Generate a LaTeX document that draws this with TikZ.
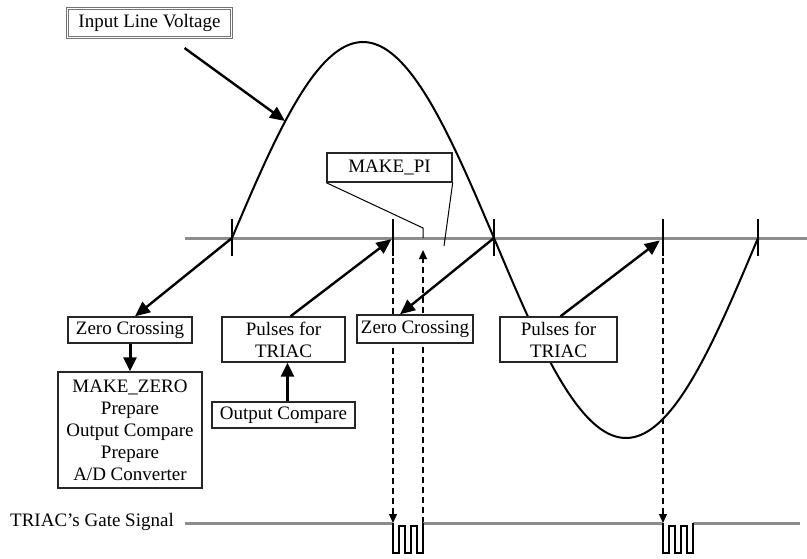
\documentclass[tikz,border=0pt]{standalone}
\usepackage{fontspec}
\setmainfont{Liberation Serif}
\usetikzlibrary{arrows.meta,calc}
\begin{document}
\begin{tikzpicture}[x=1pt,y=-1pt,
  font=\fontsize{19}{22}\selectfont,
  box/.style={draw=black!85,line width=1.4pt,fill=white,inner sep=0pt,align=center},
  bigarrow/.style={line width=2.4pt,-{Triangle[length=15pt,width=13pt]}},
  fatarrow/.style={line width=3pt,-{Triangle[length=14pt,width=13pt]}},
  dasharrow/.style={line width=1.3pt,dash pattern=on 6pt off 4pt,-{Triangle[length=9pt,width=8pt]}},
  axisline/.style={line width=3pt,draw=black!45},
  tickmark/.style={line width=1.6pt},
  curve/.style={line width=2pt},
  pulse/.style={line width=1.2pt}]
\useasboundingbox (0,0) rectangle (807,558);

% coordinates
\coordinate (t1) at (232,238);
\coordinate (t2) at (393,238);
\coordinate (t3) at (494,238);
\coordinate (t4) at (663,238);
\coordinate (t5) at (758,238);
\coordinate (axL) at (185,238);
\coordinate (axR) at (807,238);
\coordinate (gL) at (185,523);
\coordinate (g1) at (393,523);
\coordinate (g2) at (423,523);
\coordinate (g3) at (663,523);
\coordinate (g4) at (693,523);
\coordinate (gR) at (800,523);
\coordinate (cv) at (285,121);
\coordinate (pi1) at (423,228);
\coordinate (pi2) at (423,238);
\coordinate (pi3) at (444,246);
\coordinate (up) at (423,250);

% axis
\draw[axisline] (axL) -- (axR);

% sine curve
\draw[curve] plot[domain=0:180,samples=80] ({232+\x/180*262},{238-sin(\x)*196});
\draw[curve] plot[domain=0:180,samples=80] ({494+\x/180*264},{238+sin(\x)*200});

% ticks
\foreach \t in {t1,t2,t3,t4,t5}
  \draw[tickmark] ([yshift=19pt]\t) -- ([yshift=-18pt]\t);

% dashed lines
\draw[dasharrow] (t2) -- (g1);
\draw[dasharrow] (g2) -- (up);
\draw[dasharrow] (t4) -- (g3);

% gate signal
\draw[axisline] (gL) -- (g1);
\draw[axisline] (g2) -- (g3);
\draw[axisline] (g4) -- (gR);
\draw[pulse] (g1) -- ++(0,30) -- ++(6,0) -- ++(0,-27) -- ++(6,0) -- ++(0,27) -- ++(6,0) -- ++(0,-27) -- ++(6,0) -- ++(0,27) -- ++(6,0) -- (g2);
\draw[pulse] (g3) -- ++(0,30) -- ++(6,0) -- ++(0,-27) -- ++(6,0) -- ++(0,27) -- ++(6,0) -- ++(0,-27) -- ++(6,0) -- ++(0,27) -- ++(6,0) -- (g4);
\node[anchor=west,inner sep=0pt] (gate) at (10,522) {TRIAC's Gate Signal};

% boxes
\node[box,draw=black!55,double=white,double distance=0.8pt,line width=1pt,minimum width=164pt,minimum height=29pt] (ilv) at (149.5,23) {Input Line Voltage};
\node[box,minimum width=125pt,minimum height=29pt] (mpi) at (389.5,167.5) {MAKE\_PI};
\node[box,minimum width=124pt,minimum height=26pt] (zc1) at (130,330) {Zero Crossing};
\node[box,minimum width=144pt,minimum height=116pt] (mz) at (130,430) {MAKE\_ZERO\\Prepare\\Output Compare\\Prepare\\A/D Converter};
\node[box,minimum width=123pt,minimum height=45pt] (pt1) at (283.5,339.5) {Pulses for\\TRIAC};
\node[box,minimum width=143pt,minimum height=26pt] (oc) at (283.5,415) {Output Compare};
\node[box,minimum width=116pt,minimum height=28pt] (zc2) at (415,329) {Zero Crossing};
\node[box,minimum width=117pt,minimum height=45pt] (pt2) at (558.5,339.5) {Pulses for\\TRIAC};

% MAKE_PI callout
\draw[line width=1pt] (mpi.south west) -- (pi1) -- (pi2);
\draw[line width=1pt] (mpi.south east) -- (pi3);

% arrows
\draw[bigarrow] ([xshift=35pt,yshift=-10pt]ilv.south) -- (cv);
\draw[bigarrow] (t1) -- ([xshift=5pt]zc1.north);
\draw[fatarrow] (zc1.south) -- (mz.north);
\draw[bigarrow,shorten >=2pt] ([xshift=7pt]pt1.north) -- (t2);
\draw[fatarrow] ([xshift=4pt]oc.north) -- ([xshift=4pt]pt1.south);
\draw[bigarrow] (t3) -- ([xshift=-15pt]zc2.north);
\draw[bigarrow,shorten >=4pt] ([xshift=2pt]pt2.north) -- (t4);
\end{tikzpicture}
\end{document}
